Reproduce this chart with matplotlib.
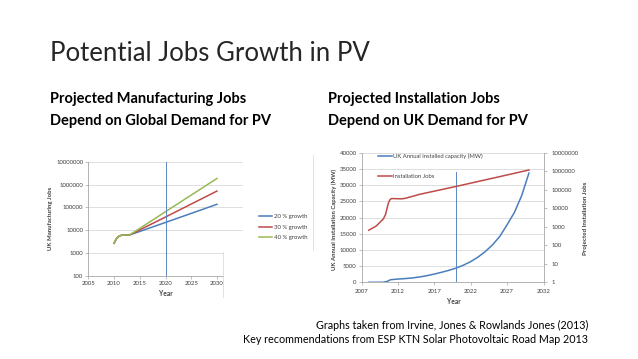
import matplotlib
matplotlib.use('Agg')
import matplotlib.pyplot as plt
from matplotlib.patches import Rectangle
from matplotlib.lines import Line2D

# ---------------- data ----------------
title = "Potential Jobs Growth in PV"
left_sub = ["Projected Manufacturing Jobs", "Depend on Global Demand for PV"]
right_sub = ["Projected Installation Jobs", "Depend on UK Demand for PV"]
footnote = ["Graphs taken from Irvine, Jones & Rowlands Jones (2013)",
            "Key recommendations from ESP KTN Solar Photovoltaic Road Map 2013"]

# Left chart: UK manufacturing jobs (log scale)
mfg_labels = ["20 % growth", "30 % growth", "40 % growth"]
mfg_years = [2010, 2010.5, 2011, 2011.5, 2012, 2012.5, 2013, 2020, 2030]
mfg_jobs_20 = [2700, 4400, 5600, 6100, 6200, 6100, 6200, 22000, 137000]
mfg_jobs_30 = [2700, 4400, 5600, 6100, 6200, 6100, 6200, 38000, 520000]
mfg_jobs_40 = [2700, 4400, 5600, 6100, 6200, 6100, 6200, 65000, 1850000]
mfg_xticks = [2005, 2010, 2015, 2020, 2025, 2030]
mfg_yticks = [100, 1000, 10000, 100000, 1000000, 10000000]
mfg_ytick_labels = ["100", "1000", "10000", "100000", "1000000", "10000000"]
mfg_marker_year = 2020
mfg_xlabel = "Year"
mfg_ylabel = "UK Manufacturing Jobs"

# Right chart: UK annual installed capacity (MW) and installation jobs
cap_label = "UK Annual installed capacity (MW)"
cap_years = [2008, 2009, 2010, 2010.5, 2011, 2012, 2013, 2014, 2015, 2016, 2017,
             2018, 2019, 2020, 2021, 2022, 2023, 2024, 2025, 2026, 2027, 2028,
             2029, 2030]
cap_mw = [0, 0, 20, 250, 800, 1000, 1150, 1350, 1650, 2050, 2550,
          3100, 3700, 4400, 5300, 6400, 7800, 9500, 11600, 14200, 17800, 21600,
          26800, 33800]
jobs_label = "Installation Jobs"
jobs_years = [2008, 2009, 2010, 2010.3, 2010.5, 2010.7, 2010.9, 2011.1, 2011.5,
              2012.5, 2013, 2015, 2020, 2025, 2030]
jobs = [660, 1100, 2700, 4700, 9800, 20000, 29000, 34000, 34000,
        33000, 35000, 58000, 155000, 430000, 1200000]
inst_xticks = [2007, 2012, 2017, 2022, 2027, 2032]
inst_yticks = [0, 5000, 10000, 15000, 20000, 25000, 30000, 35000, 40000]
jobs_yticks = [1, 10, 100, 1000, 10000, 100000, 1000000, 10000000]
jobs_ytick_labels = ["1", "10", "100", "1000", "10000", "100000", "1000000", "10000000"]
inst_marker_year = 2020
inst_marker_top = 34000
inst_xlabel = "Year"
inst_ylabel = "UK Annual Installation Capacity (MW)"
jobs_ylabel = "Projected Installation Jobs"

# ---------------- style ----------------
W, H, DPI = 638, 359, 100
plt.rcParams['font.family'] = ['Lato', 'DejaVu Sans']
BLUE, RED, GREEN = '#4A7EBB', '#BE4B48', '#98B954'
VLINE = '#5B86C0'
GRID = '#D9D9D9'
AXC = '#A6A6A6'
TXT = '#404040'
TICK_FS = 4.3

fig = plt.figure(figsize=(W / DPI, H / DPI), dpi=DPI)
fig.patch.set_facecolor('white')
renderer = fig.canvas.get_renderer()


def fx(x):
    return x / W


def fy(y):
    return 1 - y / H


def rect(x0, y0, x1, y1):
    return [x0 / W, 1 - y1 / H, (x1 - x0) / W, (y1 - y0) / H]


def fit(t, target, vertical=False):
    bb = t.get_window_extent(renderer)
    size = bb.height if vertical else bb.width
    t.set_fontsize(t.get_fontsize() * target / size)
    return t.get_fontsize()


# ---------------- slide text ----------------
t = fig.text(fx(50), fy(61), title, fontsize=20, fontweight='normal',
             color='#262626', ha='left', va='baseline')
fit(t, 320)

s = fig.text(fx(50), fy(103.5), left_sub[0], fontsize=11, fontweight='bold',
             color='black', ha='left', va='baseline')
sub_fs = fit(s, 196)
fig.text(fx(50), fy(124.5), left_sub[1], fontsize=sub_fs, fontweight='bold',
         color='black', ha='left', va='baseline')
fig.text(fx(328), fy(103.5), right_sub[0], fontsize=sub_fs, fontweight='bold',
         color='black', ha='left', va='baseline')
fig.text(fx(328), fy(124.5), right_sub[1], fontsize=sub_fs, fontweight='bold',
         color='black', ha='left', va='baseline')

f2 = fig.text(fx(588), fy(343), footnote[1], fontsize=8, color='black',
              ha='right', va='baseline')
foot_fs = fit(f2, 347)
fig.text(fx(588), fy(328.7), footnote[0], fontsize=foot_fs, color='black',
         ha='right', va='baseline')


def style_axis(ax):
    for sp in ax.spines.values():
        sp.set_color(AXC)
        sp.set_linewidth(0.6)
    ax.tick_params(axis='both', which='major', length=2, width=0.5, color=AXC,
                   labelsize=TICK_FS, labelcolor=TXT, pad=1.6)
    ax.tick_params(axis='both', which='minor', length=0)


# ---------------- left chart ----------------
ax1 = fig.add_axes(rect(88.3, 161.7, 242.7, 276))
ax1.set_facecolor('white')
ax1.set_yscale('log')
ax1.set_xlim(2005, 2035)
ax1.set_ylim(100, 1e7)
ax1.set_xticks(mfg_xticks)
ax1.set_xticklabels([str(v) for v in mfg_xticks])
ax1.set_yticks(mfg_yticks)
ax1.set_yticklabels(mfg_ytick_labels)
ax1.yaxis.set_minor_locator(matplotlib.ticker.NullLocator())
ax1.spines['top'].set_visible(False)
ax1.spines['right'].set_visible(False)
style_axis(ax1)
ax1.yaxis.grid(True, color=GRID, linewidth=0.6)
ax1.set_axisbelow(True)
l20, = ax1.plot(mfg_years, mfg_jobs_20, color=BLUE, lw=1.1, label=mfg_labels[0])
l30, = ax1.plot(mfg_years, mfg_jobs_30, color=RED, lw=1.1, label=mfg_labels[1])
l40, = ax1.plot(mfg_years, mfg_jobs_40, color=GREEN, lw=1.1, label=mfg_labels[2])
ax1.plot([mfg_marker_year, mfg_marker_year], [115, 1e7], color=VLINE, lw=0.7)

t = fig.text(fx(50), fy(218.5), mfg_ylabel, rotation=90, fontsize=4.5,
             fontweight='bold', color=TXT, ha='center', va='center')
fit(t, 63, vertical=True)
fig.text(fx(166), fy(294), mfg_xlabel, fontsize=4.8, fontweight='bold',
         color=TXT, ha='center', va='center')

# white overlay covering lower-right corner of the left chart
fig.add_artist(Rectangle((fx(223.5), fy(300)), (250 - 223.5) / W, (300 - 246) / H,
                         transform=fig.transFigure, facecolor='white',
                         edgecolor='none', zorder=5))
fig.add_artist(Line2D([fx(223), fx(223)], [fy(252), fy(297)], color='#D6D6D6',
                      lw=0.5, transform=fig.transFigure, zorder=6))
fig.add_artist(Line2D([fx(313), fx(313)], [fy(155), fy(250)], color='#D6D6D6',
                      lw=0.5, transform=fig.transFigure, zorder=6))

fs_leg = 4.3
fig.legend(handles=[l20, l30, l40], labels=mfg_labels, loc='upper left',
           bbox_to_anchor=(fx(259), fy(214.3)), bbox_transform=fig.transFigure,
           frameon=False, fontsize=fs_leg, handlelength=2.2, handletextpad=0.3,
           labelspacing=0.85, borderpad=0, borderaxespad=0, labelcolor=TXT)

# ---------------- right chart ----------------
ax2 = fig.add_axes(rect(361.5, 153, 543.5, 282.3))
ax2.set_facecolor('white')
ax2.set_xlim(2007, 2032)
ax2.set_ylim(0, 40000)
ax2.set_xticks(inst_xticks)
ax2.set_xticklabels([str(v) for v in inst_xticks])
ax2.set_yticks(inst_yticks)
ax2.set_yticklabels([str(v) for v in inst_yticks])
ax2.spines['top'].set_visible(False)
ax2.spines['right'].set_visible(False)
style_axis(ax2)
ax2.tick_params(axis='x', pad=2.8)
ax2.yaxis.grid(True, color=GRID, linewidth=0.6)
ax2.set_axisbelow(True)
lcap, = ax2.plot(cap_years, cap_mw, color=BLUE, lw=1.1, label=cap_label)
ax2.plot([inst_marker_year, inst_marker_year], [0, inst_marker_top], color=VLINE, lw=0.7)

ax3 = ax2.twinx()
ax3.set_yscale('log')
ax3.set_ylim(1, 1e7)
ax3.set_yticks(jobs_yticks)
ax3.set_yticklabels(jobs_ytick_labels)
ax3.yaxis.set_minor_locator(matplotlib.ticker.NullLocator())
for k in ['top', 'left', 'bottom']:
    ax3.spines[k].set_visible(False)
style_axis(ax3)
ax3.tick_params(axis='y', pad=3.5)
ljobs, = ax3.plot(jobs_years, jobs, color=RED, lw=1.1, label=jobs_label)

ax3.legend(handles=[lcap, ljobs], labels=[cap_label, jobs_label], loc='upper left',
           bbox_to_anchor=(fx(378), fy(153.6)), bbox_transform=fig.transFigure,
           frameon=False, fontsize=4.2, handlelength=2.4, handletextpad=0.25,
           labelspacing=2.6, borderpad=0, borderaxespad=0, labelcolor=TXT)

t = fig.text(fx(334), fy(219), inst_ylabel, rotation=90, fontsize=4.5,
             fontweight='bold', color=TXT, ha='center', va='center')
fit(t, 102, vertical=True)
t = fig.text(fx(586), fy(218.5), jobs_ylabel, rotation=90, fontsize=4.5,
             fontweight='bold', color=TXT, ha='center', va='center')
fit(t, 73, vertical=True)
fig.text(fx(454), fy(301.5), inst_xlabel, fontsize=4.8, fontweight='bold',
         color=TXT, ha='center', va='center')

fig.savefig('out.png', dpi=DPI, facecolor='white')
